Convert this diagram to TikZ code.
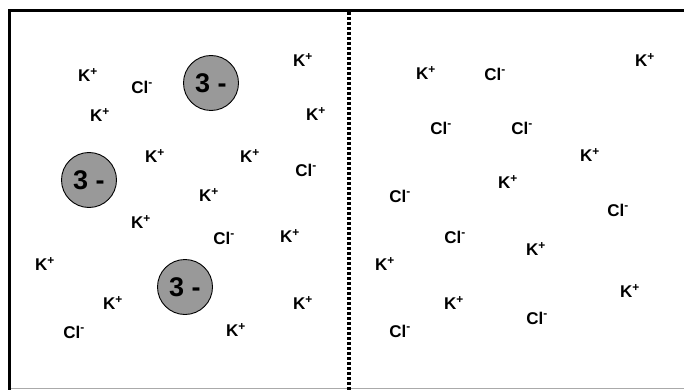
\documentclass[tikz,border=0pt]{standalone}
\usepackage{fontspec}
\setmainfont{Liberation Sans}
\begin{document}
\begin{tikzpicture}[x=1pt,y=-1pt,
  ion/.style={font=\fontsize{17}{19}\selectfont\bfseries, inner sep=0pt},
  anion/.style={circle, draw=black, line width=0.9pt, fill=ionfill,
    minimum size=55pt, inner sep=0pt, font=\fontsize{27}{30}\selectfont\bfseries},
  wall/.style={line width=3pt},
  membrane/.style={line width=4pt, dash pattern=on 3pt off 2pt}]
\definecolor{ionfill}{RGB}{153,153,153}
\definecolor{floorline}{RGB}{170,170,170}
\useasboundingbox (0,0) rectangle (684,390);
\fill[white] (0,0) rectangle (684,390);
% container walls
\coordinate (tl) at (9.5,10.5);
\coordinate (tr) at (684,10.5);
\coordinate (bl) at (9.5,390);
\coordinate (fl) at (8,388.5);
\coordinate (fr) at (684,388.5);
\coordinate (mt) at (348.5,12);
\coordinate (mb) at (348.5,390);
\draw[floorline, line width=1.5pt] (fl) -- (fr);
\draw[wall] (bl) -- (tl) -- (tr);
\draw[membrane] (mt) -- (mb);
% large impermeant anions
\node[anion] (a1) at (211,83) {3 -};
\node[anion] (a2) at (89,180) {3 -};
\node[anion] (a3) at (185,287) {3 -};
% left compartment
\node[ion] (l1) at (88,75) {K\textsuperscript{+}};
\node[ion] (l2) at (142,87) {Cl\textsuperscript{-}};
\node[ion] (l3) at (100,115) {K\textsuperscript{+}};
\node[ion] (l4) at (303,60) {K\textsuperscript{+}};
\node[ion] (l5) at (316,114) {K\textsuperscript{+}};
\node[ion] (l6) at (155,156) {K\textsuperscript{+}};
\node[ion] (l7) at (250,156) {K\textsuperscript{+}};
\node[ion] (l8) at (306,170) {Cl\textsuperscript{-}};
\node[ion] (l9) at (209,195) {K\textsuperscript{+}};
\node[ion] (l10) at (141,222) {K\textsuperscript{+}};
\node[ion] (l11) at (224,238) {Cl\textsuperscript{-}};
\node[ion] (l12) at (290,236) {K\textsuperscript{+}};
\node[ion] (l13) at (45,264) {K\textsuperscript{+}};
\node[ion] (l14) at (113,303) {K\textsuperscript{+}};
\node[ion] (l15) at (303,303) {K\textsuperscript{+}};
\node[ion] (l16) at (74,332) {Cl\textsuperscript{-}};
\node[ion] (l17) at (236,330) {K\textsuperscript{+}};
% right compartment
\node[ion] (r1) at (426,73) {K\textsuperscript{+}};
\node[ion] (r2) at (495,74) {Cl\textsuperscript{-}};
\node[ion] (r3) at (645,60) {K\textsuperscript{+}};
\node[ion] (r4) at (441,128) {Cl\textsuperscript{-}};
\node[ion] (r5) at (522,128) {Cl\textsuperscript{-}};
\node[ion] (r6) at (590,155) {K\textsuperscript{+}};
\node[ion] (r7) at (508,182) {K\textsuperscript{+}};
\node[ion] (r8) at (400,196) {Cl\textsuperscript{-}};
\node[ion] (r9) at (618,210) {Cl\textsuperscript{-}};
\node[ion] (r10) at (455,237) {Cl\textsuperscript{-}};
\node[ion] (r11) at (536,249) {K\textsuperscript{+}};
\node[ion] (r12) at (385,264) {K\textsuperscript{+}};
\node[ion] (r13) at (630,291) {K\textsuperscript{+}};
\node[ion] (r14) at (454,303) {K\textsuperscript{+}};
\node[ion] (r15) at (537,318) {Cl\textsuperscript{-}};
\node[ion] (r16) at (400,331) {Cl\textsuperscript{-}};
\end{tikzpicture}
\end{document}
